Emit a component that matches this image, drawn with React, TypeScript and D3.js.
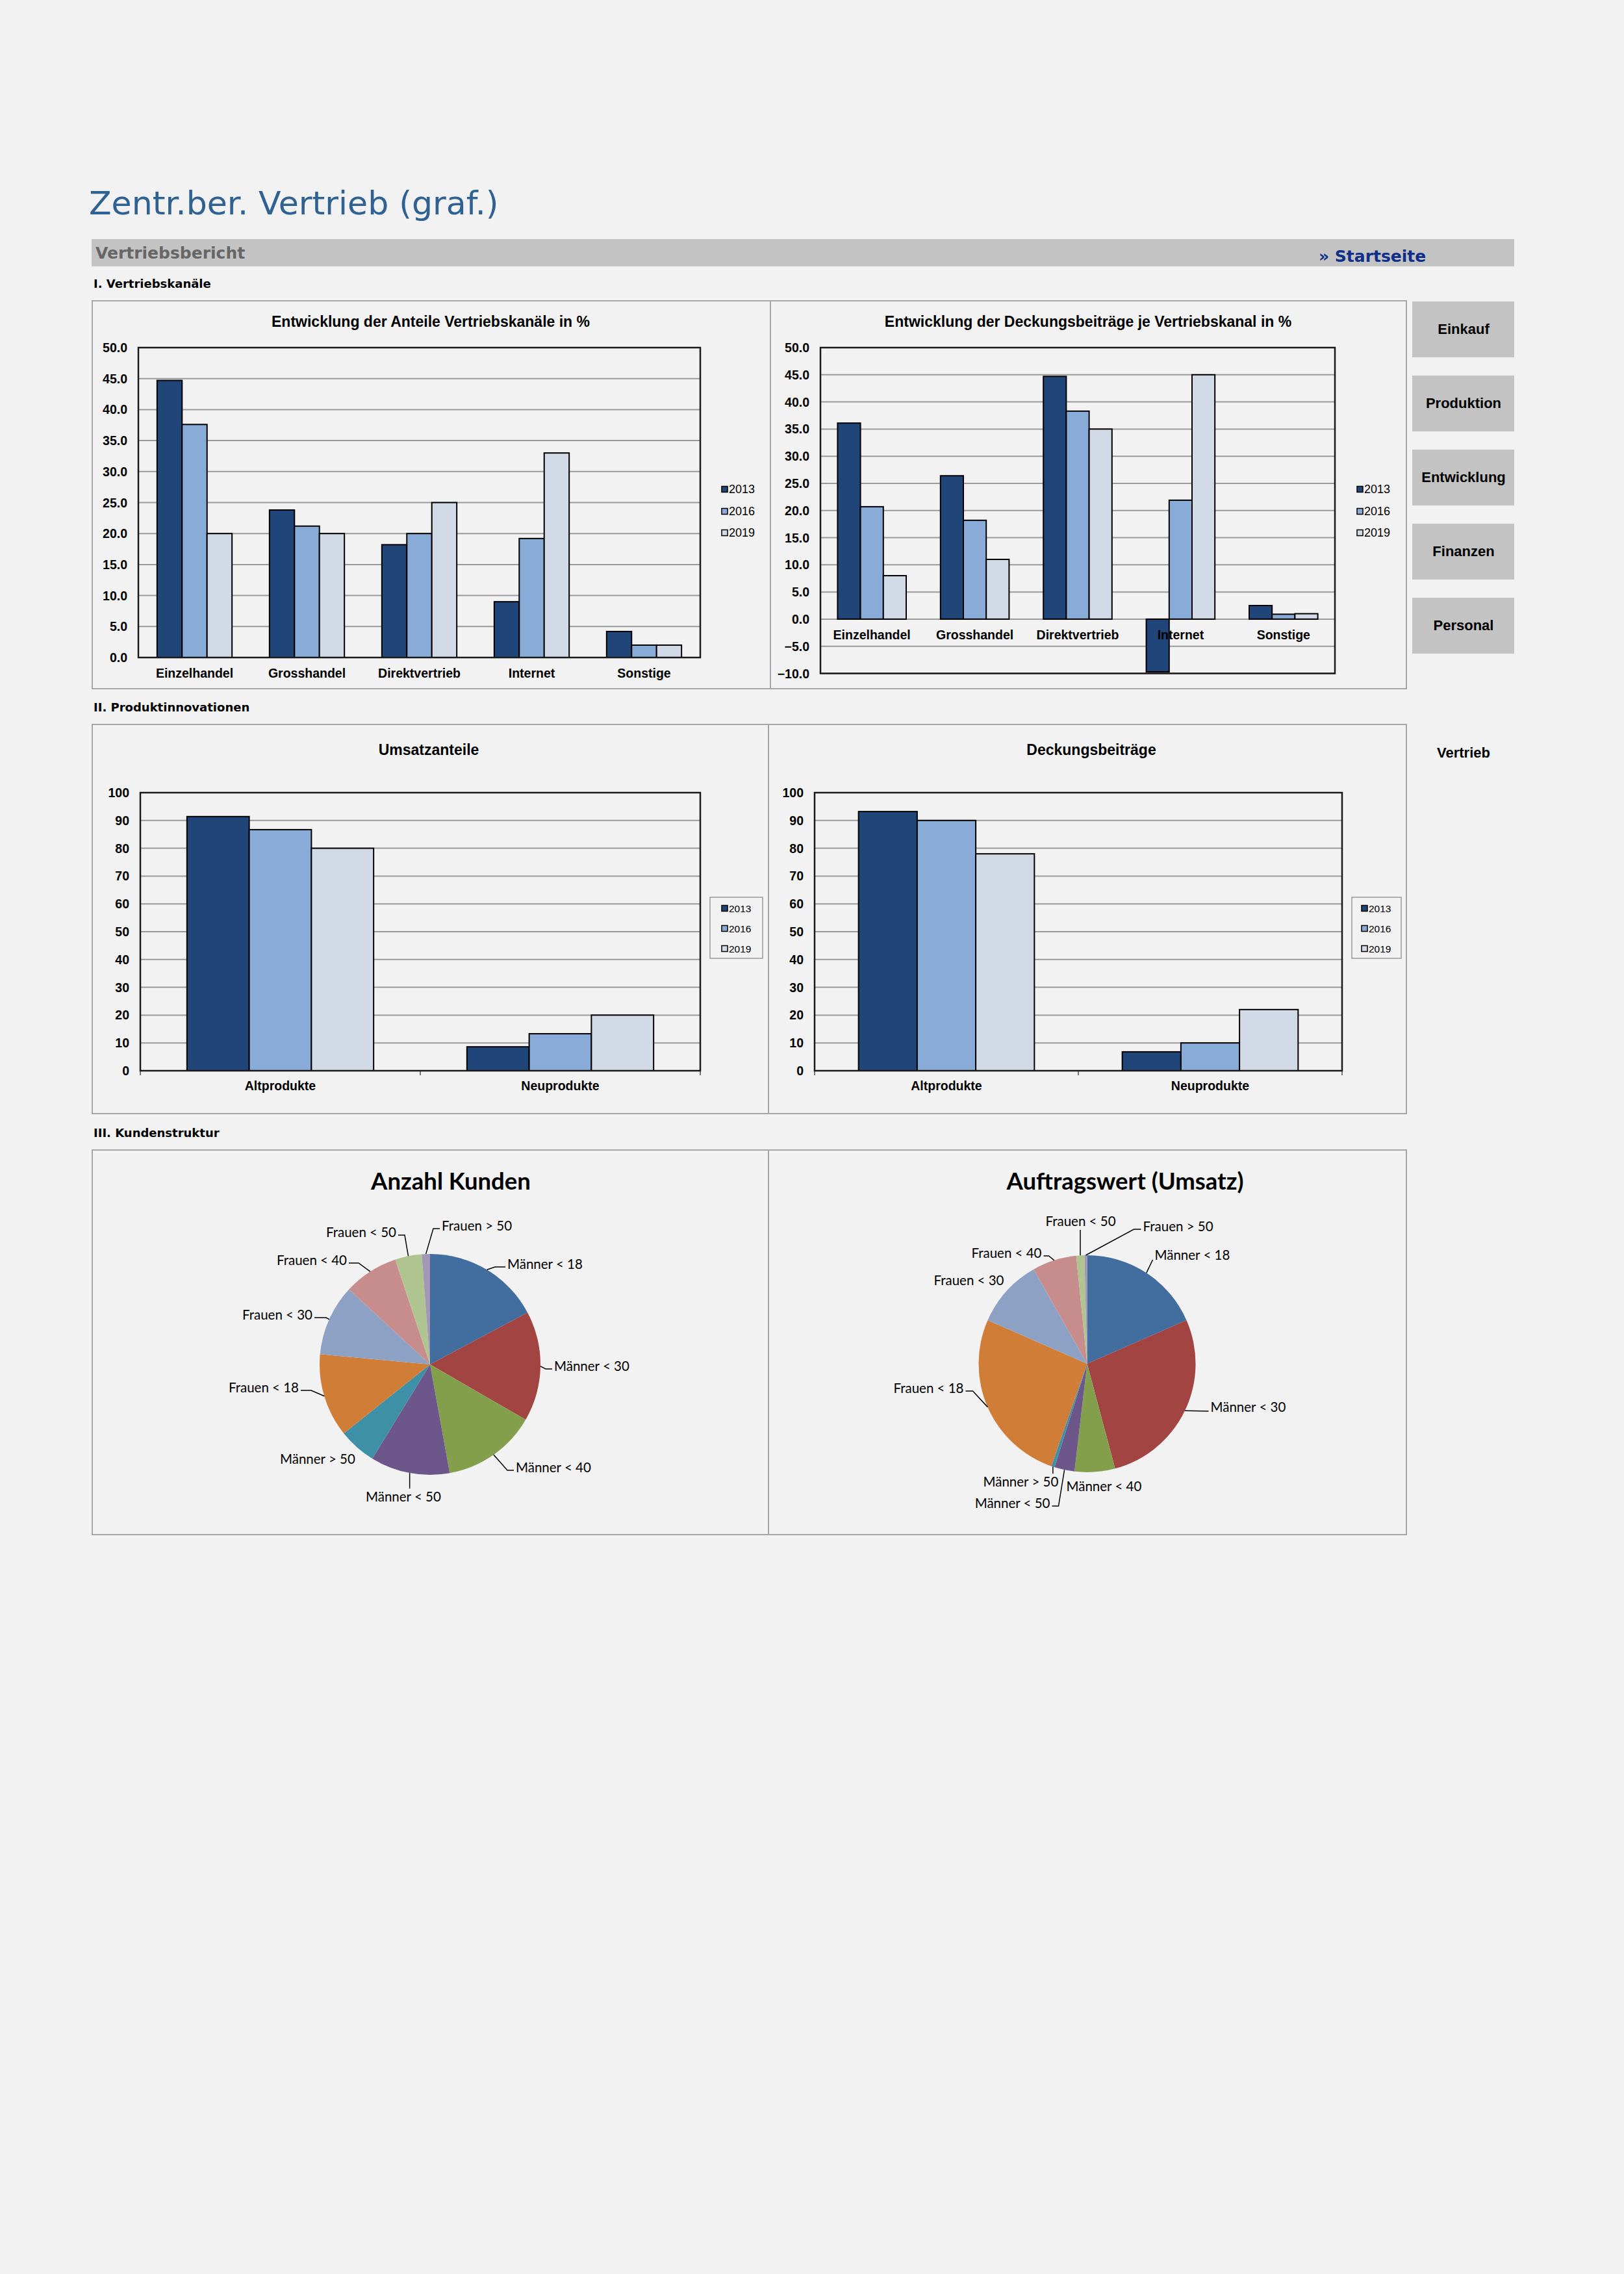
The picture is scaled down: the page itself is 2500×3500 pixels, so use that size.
import React from "react";
import * as d3 from "d3";

// ---------- data ----------
const years = ["2013", "2016", "2019"];
const channels = ["Einzelhandel", "Grosshandel", "Direktvertrieb", "Internet", "Sonstige"];
const shares2013 = [44.7, 23.8, 18.2, 9.0, 4.2];
const shares2016 = [37.6, 21.2, 20.0, 19.2, 2.0];
const shares2019 = [20.0, 20.0, 25.0, 33.0, 2.0];
const contrib2013 = [36.1, 26.4, 44.7, -9.7, 2.5];
const contrib2016 = [20.7, 18.2, 38.3, 21.9, 0.9];
const contrib2019 = [8.0, 11.0, 35.0, 45.0, 1.0];
const products = ["Altprodukte", "Neuprodukte"];
const revenue2013 = [91.4, 8.6];
const revenue2016 = [86.7, 13.3];
const revenue2019 = [80.0, 20.0];
const margin2013 = [93.2, 6.8];
const margin2016 = [90.0, 10.0];
const margin2019 = [78.0, 22.0];
const shareTicks = [0, 5, 10, 15, 20, 25, 30, 35, 40, 45, 50];
const contribTicks = [-10, -5, 0, 5, 10, 15, 20, 25, 30, 35, 40, 45, 50];
const productTicks = [0, 10, 20, 30, 40, 50, 60, 70, 80, 90, 100];
const segments = [
  "Männer < 18", "Männer < 30", "Männer < 40", "Männer < 50", "Männer > 50",
  "Frauen < 18", "Frauen < 30", "Frauen < 40", "Frauen < 50", "Frauen > 50",
];
const customers = [17.2, 16.1, 13.8, 11.6, 5.5, 12.2, 10.4, 8.0, 3.9, 1.2];
const orderValue = [18.4, 27.4, 6.0, 3.0, 0.5, 26.2, 10.2, 6.6, 1.2, 0.4];
const navButtons = ["Einkauf", "Produktion", "Entwicklung", "Finanzen", "Personal"];

// ---------- styles ----------
const BG = "#F2F2F2";
const BAR_COLORS = ["#1F4579", "#89ABD7", "#D3DAE7"];
const PIE_COLORS = ["#426D9F", "#A24442", "#849F4C", "#6C568A", "#3E90A7", "#D07D38", "#8DA1C5", "#C78D8C", "#B0C490", "#A397B8"];
const ARIAL = "'Liberation Sans', Arial, sans-serif";
const VERDANA = "'DejaVu Sans', Verdana, sans-serif";
const CALIBRI = "Lato, 'Open Sans', sans-serif";

type BarCfg = {
  title: string; tx: number; ty: number;
  plot: { left: number; right: number; top: number; bottom: number };
  domain: [number, number]; ticks: number[]; fmt: (v: number) => string;
  categories: string[]; series: number[][];
  legendX: number; legendYs: number[]; legendFont: number;
  legendBox?: { x: number; y: number; w: number; h: number };
  tickMarks?: boolean; labelOffset: number;
};

function BarChart({ c }: { c: BarCfg }) {
  const { left, right, top, bottom } = c.plot;
  const y = d3.scaleLinear().domain(c.domain).range([bottom, top]);
  const x0 = d3.scaleBand<string>().domain(c.categories).range([left, right]);
  const bw = x0.bandwidth();
  const barW = bw / 4.5;
  const x1 = d3.scaleBand<string>().domain(years).range([0.75 * barW, 3.75 * barW]);
  const zeroY = y(0);
  return (
    <g>
      <text x={c.tx} y={c.ty} textAnchor="middle" fontFamily={ARIAL} fontWeight="bold" fontSize={23}>{c.title}</text>
      {c.ticks.map((t) => (
        <g key={"t" + t}>
          <line x1={left} x2={right} y1={y(t)} y2={y(t)} stroke="#9A9A9A" strokeWidth={2} />
          <text x={left - 17} y={y(t) + 7} textAnchor="end" fontFamily={ARIAL} fontWeight="bold" fontSize={19.5}>{c.fmt(t)}</text>
        </g>
      ))}
      {c.categories.map((cat, i) => (
        <g key={cat}>
          {c.series.map((s, k) => {
            const v = s[i];
            const yy = Math.min(y(v), zeroY);
            const h = Math.abs(y(v) - zeroY);
            return (
              <rect key={k} x={(x0(cat) as number) + (x1(years[k]) as number)} y={yy} width={barW} height={h}
                fill={BAR_COLORS[k]} stroke="#000" strokeWidth={2} />
            );
          })}
          <text x={(x0(cat) as number) + bw / 2} y={zeroY + c.labelOffset} textAnchor="middle"
            fontFamily={ARIAL} fontWeight="bold" fontSize={19.5}>{cat}</text>
        </g>
      ))}
      {c.tickMarks && [left, ...c.categories.map((cat) => (x0(cat) as number) + bw)].map((xx, i) => (
        <line key={"m" + i} x1={xx} x2={xx} y1={bottom} y2={bottom + 7} stroke="#777" strokeWidth={2} />
      ))}
      <rect x={left} y={top} width={right - left} height={bottom - top} fill="none" stroke="#1A1A1A" strokeWidth={2.5} />
      {c.legendBox && (
        <rect x={c.legendBox.x} y={c.legendBox.y} width={c.legendBox.w} height={c.legendBox.h} fill={BG} stroke="#999" strokeWidth={1.5} />
      )}
      {years.map((yr, k) => (
        <g key={yr}>
          <rect x={c.legendX} y={c.legendYs[k] - 4.5} width={9} height={9} fill={BAR_COLORS[k]} stroke="#000" strokeWidth={1.5} />
          <text x={c.legendX + 11} y={c.legendYs[k] + c.legendFont * 0.36} fontFamily={ARIAL} fontSize={c.legendFont}>{yr}</text>
        </g>
      ))}
    </g>
  );
}

type LabelLayout = { dx: number; dy: number; anchor: "start" | "end" | "middle"; leader: "none" | "elbow" | "v"; elbow?: number; ey?: number; vEnd?: number };

function PieChart({ title, cx, cy, r, titleX, values, labels }: { title: string; cx: number; cy: number; r: number; titleX: number; values: number[]; labels: LabelLayout[] }) {
  const arcs = d3.pie<number>().sort(null).value((d) => d)(values);
  const arc = d3.arc<d3.PieArcDatum<number>>().innerRadius(0).outerRadius(r);
  return (
    <g>
      <text x={titleX} y={1831} textAnchor="middle" fontFamily={CALIBRI} fontWeight="bold" fontSize={36.5}>{title}</text>
      <g transform={`translate(${cx},${cy})`}>
        {arcs.map((a, i) => (
          <path key={i} d={arc(a) as string} fill={PIE_COLORS[i]} />
        ))}
        {arcs.map((a, i) => {
          const L = labels[i];
          const mid = (a.startAngle + a.endAngle) / 2;
          const ax = Math.sin(mid) * r;
          const ay = -Math.cos(mid) * r;
          let path = "";
          if (L.leader === "elbow") {
            const ey = L.dy + (L.ey ?? -3);
            const ex = L.anchor === "start" ? L.dx - 3 : L.dx + 3;
            const el = L.elbow ?? 14;
            const bx = L.anchor === "start" ? ex - el : ex + el;
            path = `M${ax},${ay}L${bx},${ey}L${ex},${ey}`;
          } else if (L.leader === "v") {
            path = `M${ax},${ay}L${ax},${L.dy + (L.vEnd ?? 0)}`;
          }
          return (
            <g key={"l" + i}>
              {path && <path d={path} fill="none" stroke="#000" strokeWidth={1.5} />}
              <text x={L.dx} y={L.dy} textAnchor={L.anchor} fontFamily={CALIBRI} fontSize={20.5}>{segments[i]}</text>
            </g>
          );
        })}
      </g>
    </g>
  );
}

const pie1Labels: LabelLayout[] = [
  { dx: 119, dy: -147, anchor: "start", leader: "elbow", elbow: 16 },
  { dx: 191, dy: 10, anchor: "start", leader: "elbow", elbow: 10 },
  { dx: 132, dy: 166, anchor: "start", leader: "elbow", elbow: 10 },
  { dx: -99, dy: 211, anchor: "start", leader: "v", vEnd: -20 },
  { dx: -231, dy: 153, anchor: "start", leader: "none" },
  { dx: -202, dy: 43, anchor: "end", leader: "elbow", elbow: 16 },
  { dx: -181, dy: -69, anchor: "end", leader: "elbow", elbow: 18 },
  { dx: -128, dy: -153, anchor: "end", leader: "elbow", elbow: 15 },
  { dx: -52, dy: -196, anchor: "end", leader: "elbow", elbow: 10 },
  { dx: 18, dy: -206, anchor: "start", leader: "elbow", elbow: 10 },
];

const pie2Labels: LabelLayout[] = [
  { dx: 104, dy: -160, anchor: "start", leader: "elbow", elbow: 0, ey: 0 },
  { dx: 190, dy: 74, anchor: "start", leader: "elbow", elbow: 0, ey: -1 },
  { dx: -32, dy: 196, anchor: "start", leader: "none" },
  { dx: -57, dy: 222, anchor: "end", leader: "elbow", elbow: 10 },
  { dx: -160, dy: 189, anchor: "start", leader: "v", vEnd: -20 },
  { dx: -190, dy: 45, anchor: "end", leader: "elbow", elbow: 11 },
  { dx: -128, dy: -121, anchor: "end", leader: "none" },
  { dx: -70, dy: -163, anchor: "end", leader: "elbow", elbow: 8 },
  { dx: -10, dy: -212, anchor: "middle", leader: "v", vEnd: 6 },
  { dx: 86, dy: -204, anchor: "start", leader: "elbow", elbow: 11 },
];

const fmt1 = d3.format(".1f");
const fmt0 = d3.format("d");

const charts: BarCfg[] = [
  {
    title: "Entwicklung der Anteile Vertriebskanäle in %", tx: 663, ty: 503,
    plot: { left: 213, right: 1078, top: 535, bottom: 1012 }, domain: [0, 50], ticks: shareTicks, fmt: fmt1,
    categories: channels, series: [shares2013, shares2016, shares2019],
    legendX: 1111, legendYs: [753, 787, 820], legendFont: 18, labelOffset: 31,
  },
  {
    title: "Entwicklung der Deckungsbeiträge je Vertriebskanal  in %", tx: 1675, ty: 503,
    plot: { left: 1263, right: 2055, top: 535, bottom: 1036.5 }, domain: [-10, 50], ticks: contribTicks, fmt: fmt1,
    categories: channels, series: [contrib2013, contrib2016, contrib2019],
    legendX: 2089, legendYs: [753, 787, 820], legendFont: 18, labelOffset: 31,
  },
  {
    title: "Umsatzanteile", tx: 660, ty: 1162,
    plot: { left: 216, right: 1078, top: 1220, bottom: 1648 }, domain: [0, 100], ticks: productTicks, fmt: fmt0,
    categories: products, series: [revenue2013, revenue2016, revenue2019],
    legendX: 1111, legendYs: [1398, 1429, 1460], legendFont: 15.5, labelOffset: 30,
    legendBox: { x: 1093, y: 1381, w: 81, h: 94 }, tickMarks: true,
  },
  {
    title: "Deckungsbeiträge", tx: 1680, ty: 1162,
    plot: { left: 1254, right: 2066, top: 1220, bottom: 1648 }, domain: [0, 100], ticks: productTicks, fmt: fmt0,
    categories: products, series: [margin2013, margin2016, margin2019],
    legendX: 2096, legendYs: [1398, 1429, 1460], legendFont: 15.5, labelOffset: 30,
    legendBox: { x: 2081, y: 1381, w: 76, h: 94 }, tickMarks: true,
  },
];

const sections = [
  { label: "I. Vertriebskanäle", top: 463, bottom: 1060, divider: 1186 },
  { label: "II. Produktinnovationen", top: 1115, bottom: 1714, divider: 1183 },
  { label: "III. Kundenstruktur", top: 1770, bottom: 2362, divider: 1183 },
];

export default function App() {
  return (
    <div style={{ position: "absolute", left: 0, top: 0 }}>
      <svg width={2500} height={3500} xmlns="http://www.w3.org/2000/svg" style={{ display: "block" }}>
        <rect x={0} y={0} width={2500} height={3500} fill={BG} />
        <text x={137} y={330} fontFamily={VERDANA} fontSize={50.5} fill="#2F6293">Zentr.ber. Vertrieb (graf.)</text>
        <rect x={141} y={368} width={2190} height={42} fill="#C3C3C3" />
        <text x={147} y={398} fontFamily={VERDANA} fontWeight="bold" fontSize={25} fill="#666">Vertriebsbericht</text>
        <text x={2030} y={403} fontFamily={VERDANA} fontWeight="bold" fontSize={25} fill="#0F2F8A">» Startseite</text>
        {sections.map((s) => (
          <g key={s.label}>
            <text x={144} y={s.top - 20} fontFamily={VERDANA} fontWeight="bold" fontSize={18}>{s.label}</text>
            <rect x={142} y={s.top} width={2023} height={s.bottom - s.top} fill={BG} stroke="#A6A6A6" strokeWidth={2} />
            <line x1={s.divider} x2={s.divider} y1={s.top} y2={s.bottom} stroke="#A6A6A6" strokeWidth={2} />
          </g>
        ))}
        {navButtons.map((b, i) => (
          <g key={b}>
            <rect x={2174} y={464 + i * 114} width={157} height={86} fill="#C3C3C3" />
            <text x={2253} y={464 + i * 114 + 50} textAnchor="middle" fontFamily={ARIAL} fontWeight="bold" fontSize={22}>{b}</text>
          </g>
        ))}
        <text x={2253} y={1166} textAnchor="middle" fontFamily={ARIAL} fontWeight="bold" fontSize={22}>Vertrieb</text>
        {charts.map((c) => <BarChart key={c.title} c={c} />)}
        <PieChart title="Anzahl Kunden" cx={662} cy={2100} r={170} titleX={694} values={customers} labels={pie1Labels} />
        <PieChart title="Auftragswert (Umsatz)" cx={1673.5} cy={2099} r={167} titleX={1732} values={orderValue} labels={pie2Labels} />
      </svg>
    </div>
  );
}
